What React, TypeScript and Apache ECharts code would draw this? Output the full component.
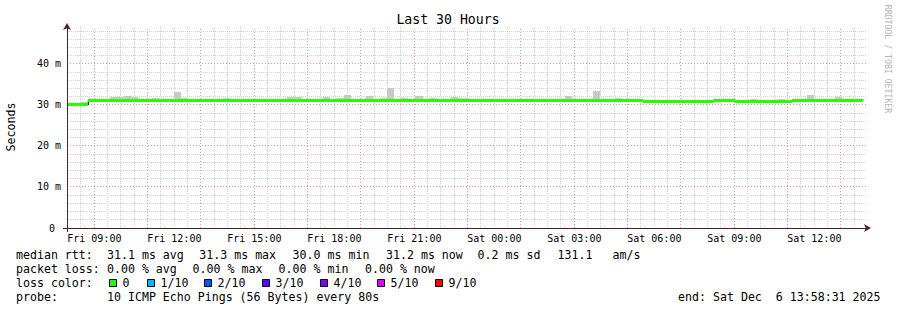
import React, { useEffect, useRef } from 'react';
import * as echarts from 'echarts';

// ---- time base (hours since Fri 00:00) ----
const START_HOUR = 7 + 58 / 60 + 31 / 3600; // Fri 07:58:31
const END_HOUR = START_HOUR + 30; // Sat 13:58:31
const BUCKET_HOURS = 16 / 60; // RRD consolidation step (16 min)
const BUCKET_COUNT = 112;

// ---- median RTT (ms): runs of buckets [first bucket index] -> value ----
const medianRunStart = [0, 3, 80, 81, 91, 94, 102];
const medianRunMs = [30.0, 31.2, 31.0, 30.8, 31.0, 30.8, 31.2];

// ---- smoke (highest ping, ms) for the buckets where it shows ----
const smokeBucket = [2, 6, 7, 8, 9, 12, 15, 16, 22, 31, 32, 36, 38, 39, 42, 44, 45, 47, 49, 51, 54, 55, 70, 74, 77, 84, 86, 89, 95, 96, 100, 104, 108];
const smokeMaxMs = [30.7, 31.9, 31.9, 32.2, 31.9, 31.7, 33.2, 31.7, 31.7, 31.9, 31.9, 32.0, 31.7, 32.5, 32.2, 31.8, 34.1, 31.7, 32.2, 31.7, 32.0, 31.7, 32.2, 33.4, 31.7, 31.3, 31.3, 31.3, 31.3, 31.5, 31.5, 32.5, 31.9];

// ---- axes ----
const xTickHours = [9, 12, 15, 18, 21, 24, 27, 30, 33, 36];
const xTickLabels = ['Fri 09:00', 'Fri 12:00', 'Fri 15:00', 'Fri 18:00', 'Fri 21:00', 'Sat 00:00', 'Sat 03:00', 'Sat 06:00', 'Sat 09:00', 'Sat 12:00'];
const yTickValues = [0, 10, 20, 30, 40];
const yTickLabels = ['0\u00a0', '10 m', '20 m', '30 m', '40 m'];
const Y_MAX = 49;

// ---- legend texts ----
const titleText = 'Last 30 Hours';
const rttStats = ['31.1 ms avg', '31.3 ms max', '30.0 ms min', '31.2 ms now', '0.2 ms sd', '131.1', 'am/s'];
const lossStats = ['0.00 % avg', '0.00 % max', '0.00 % min', '0.00 % now'];
const lossColorLabels = ['0', '1/10', '2/10', '3/10', '4/10', '5/10', '9/10'];
const lossColors = ['#26ff00', '#00b8ff', '#0059ff', '#5e00ff', '#7e00ff', '#dd00ff', '#ff0000'];
const probeText = '10 ICMP Echo Pings (56 Bytes) every 80s';
const endText = 'end: Sat Dec \u00a06 13:58:31 2025';

const MONO = "'DejaVu Sans Mono', monospace";

function bucketTime(n: number) {
  return START_HOUR + n * BUCKET_HOURS;
}
function medianAt(n: number) {
  let v = medianRunMs[0];
  for (let i = 0; i < medianRunStart.length; i++) if (medianRunStart[i] <= n) v = medianRunMs[i];
  return v;
}
const snap = (v: number) => Math.round(v - 0.5) + 0.5;

function gridSeries(values: number[], vertical: boolean, color: string, z: number, dash: number[]) {
  return {
    type: 'custom', xAxisIndex: 0, yAxisIndex: 0, clip: false, silent: true, z,
    data: values.map((v) => (vertical ? [v, 0] : [START_HOUR, v])),
    renderItem: (params: any, api: any) => {
      let x1, y1, x2, y2;
      if (vertical) {
        const a = api.coord([api.value(0), 0]);
        const b = api.coord([api.value(0), Y_MAX]);
        x1 = x2 = snap(a[0]); y1 = a[1]; y2 = b[1];
      } else {
        const a = api.coord([START_HOUR, api.value(1)]);
        const b = api.coord([END_HOUR, api.value(1)]);
        y1 = y2 = snap(a[1]); x1 = a[0]; x2 = b[0];
      }
      return { type: 'line', shape: { x1, y1, x2, y2 }, style: { stroke: color, fill: null, lineWidth: 1, lineDash: dash } };
    },
  };
}

export default function App() {
  const ref = useRef<HTMLDivElement>(null);
  useEffect(() => {
    if (!ref.current) return;
    const chart = echarts.init(ref.current, undefined, { renderer: 'svg' });

    const majorX: number[] = [];
    const minorX: number[] = [];
    for (let h = Math.ceil(START_HOUR * 2) / 2; h < END_HOUR; h += 0.5) {
      if (Number.isInteger(h) && h % 2 === 1) majorX.push(h);
      else minorX.push(h);
    }
    const majorY = yTickValues.filter((v) => v > 0);
    const minorY: number[] = [];
    for (let v = 2; v < Y_MAX; v += 2) if (v % 10 !== 0) minorY.push(v);

    const medianSegs = medianRunStart.map((s, i) => {
      const e = i + 1 < medianRunStart.length ? medianRunStart[i + 1] : BUCKET_COUNT;
      return [bucketTime(s), bucketTime(e), medianRunMs[i]];
    });
    const stepPts: number[][] = medianRunStart.map((s, i) => [bucketTime(s), medianRunMs[i]]);
    stepPts.push([bucketTime(BUCKET_COUNT), medianRunMs[medianRunMs.length - 1]]);
    const smokeData = smokeBucket.map((n, i) => [bucketTime(n), bucketTime(n + 1), medianAt(n), smokeMaxMs[i]]);

    const axisLineColor = '#4a2424';

    const graphics: any[] = [];
    const txt = (x: number, y: number, text: string, extra: any = {}) =>
      graphics.push({
        type: 'text', x, y, silent: true,
        style: { text, fill: '#000', font: `11.6px ${MONO}`, textAlign: 'left', textVerticalAlign: 'middle', ...extra },
      });
    graphics.push({ type: 'text', x: 448, y: 19.8, silent: true, style: { text: titleText, fill: '#000', font: `13.2px ${MONO}`, textAlign: 'center', textVerticalAlign: 'middle' } });
    graphics.push({ type: 'text', x: 11, y: 127, rotation: Math.PI / 2, silent: true, style: { text: 'Seconds', fill: '#000', font: `11.6px ${MONO}`, textAlign: 'center', textVerticalAlign: 'middle' } });
    graphics.push({ type: 'text', x: 887.5, y: 59, rotation: -Math.PI / 2, silent: true, style: { text: 'RRDTOOL / TOBI OETIKER', fill: '#b4b4b4', font: `8.2px ${MONO}`, textAlign: 'center', textVerticalAlign: 'middle' } });
    // short axis overhangs past the origin
    graphics.push({ type: 'line', silent: true, z: 20, shape: { x1: 63, y1: 228.5, x2: 67, y2: 228.5 }, style: { stroke: axisLineColor, lineWidth: 1 } });
    graphics.push({ type: 'line', silent: true, z: 20, shape: { x1: 67.5, y1: 228, x2: 67.5, y2: 232 }, style: { stroke: axisLineColor, lineWidth: 1 } });

    const L1 = 255.2, L2 = 269.2, L3 = 283.2, L4 = 297.2;
    txt(16, L1, 'median rtt:');
    const rttX = [107, 199.3, 292.6, 386, 477.6, 557.6, 612.6];
    rttStats.forEach((s, i) => txt(rttX[i], L1, s));
    txt(16, L2, 'packet loss:');
    const lossX = [107, 192.6, 278.6, 365];
    lossStats.forEach((s, i) => txt(lossX[i], L2, s));
    txt(16, L3, 'loss color:');
    const boxX = [109, 147, 204, 262, 320, 377, 435];
    lossColorLabels.forEach((s, i) => {
      graphics.push({ type: 'rect', silent: true, shape: { x: boxX[i] + 0.5, y: 279.5, width: 7, height: 7 }, style: { fill: lossColors[i], stroke: '#000', lineWidth: 1 } });
      txt(boxX[i] + 13.6, L3, s);
    });
    txt(16, L4, 'probe:');
    txt(107, L4, probeText);
    txt(880.5, L4, endText, { textAlign: 'right' });

    const labelOf = (vals: number[], labels: string[]) => (v: number) => {
      let best = 0;
      vals.forEach((h, i) => { if (Math.abs(h - v) < Math.abs(vals[best] - v)) best = i; });
      return labels[best];
    };

    const option: any = {
      animation: false,
      backgroundColor: '#ffffff',
      grid: { left: 67, top: 27, width: 800, height: 201, containLabel: false },
      xAxis: [
        {
          type: 'value', min: START_HOUR, max: END_HOUR, position: 'bottom', z: 10,
          axisLine: { show: true, onZero: false, symbol: ['none', 'arrow'], symbolSize: [6, 7], symbolOffset: [0, 4], lineStyle: { color: axisLineColor, width: 1 } },
          axisTick: { show: false },
          axisLabel: { show: true, customValues: xTickHours, margin: 5, color: '#000', fontFamily: MONO, fontSize: 10, formatter: labelOf(xTickHours, xTickLabels) },
          splitLine: { show: false },
        },
      ],
      yAxis: [
        {
          type: 'value', min: 0, max: Y_MAX, position: 'left', z: 10,
          axisLine: { show: true, onZero: false, symbol: ['none', 'arrow'], symbolSize: [6, 7], symbolOffset: [0, 4], lineStyle: { color: axisLineColor, width: 1 } },
          axisTick: { show: false },
          axisLabel: { show: true, customValues: yTickValues, margin: 6, color: '#000', fontFamily: MONO, fontSize: 10, formatter: labelOf(yTickValues, yTickLabels) },
          splitLine: { show: false },
        },
      ],
      graphic: graphics,
      series: [
        gridSeries(minorX, true, '#d2d2d2', 0, [1, 1]),
        gridSeries(minorY, false, '#d2d2d2', 0, [1, 1]),
        gridSeries(majorX, true, '#f09090', 0, [1, 2]),
        gridSeries(majorY, false, '#f09090', 0, [1, 2]),
        {
          type: 'custom', name: 'smoke', xAxisIndex: 0, yAxisIndex: 0, clip: true, silent: true, z: 1,
          data: smokeData,
          renderItem: (params: any, api: any) => {
            const p0 = api.coord([api.value(0), api.value(3)]);
            const p1 = api.coord([api.value(1), api.value(2)]);
            const x0 = Math.round(p0[0]), x1 = Math.round(p1[0]);
            const y0 = Math.round(p0[1]), y1 = Math.round(p1[1]);
            return { type: 'rect', shape: { x: x0, y: y0, width: x1 - x0, height: y1 - y0 }, style: { fill: '#c8c8c8' } };
          },
        },
        {
          type: 'line', name: 'median step', xAxisIndex: 0, yAxisIndex: 0, step: 'end', symbol: 'none', silent: true, z: 2,
          data: stepPts, lineStyle: { color: '#000', width: 1 },
        },
        {
          type: 'custom', name: 'median', xAxisIndex: 0, yAxisIndex: 0, clip: true, silent: true, z: 5,
          data: medianSegs,
          renderItem: (params: any, api: any) => {
            const p0 = api.coord([api.value(0), api.value(2)]);
            const p1 = api.coord([api.value(1), api.value(2)]);
            const y = snap(p0[1]);
            return { type: 'line', shape: { x1: Math.round(p0[0]), y1: y, x2: Math.round(p1[0]), y2: y }, style: { stroke: '#26ff00', lineWidth: 3 } };
          },
        },
      ],
    };
    chart.setOption(option);
    return () => chart.dispose();
  }, []);
  return <div ref={ref} style={{ position: 'fixed', left: 0, top: 0, width: 897, height: 310, background: '#fff' }} />;
}
